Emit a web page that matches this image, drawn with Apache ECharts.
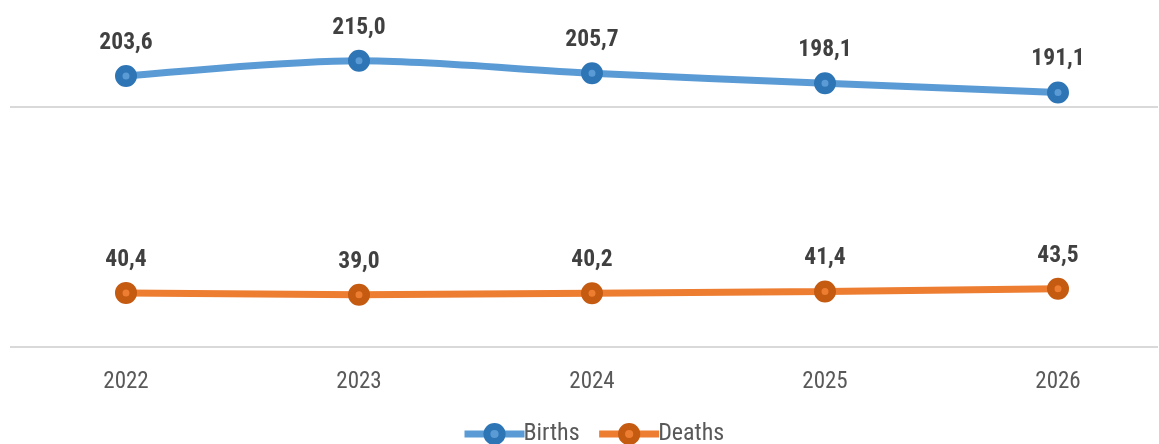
<!DOCTYPE html>
<html><head><meta charset="utf-8">
<script src="https://cdn.jsdelivr.net/npm/echarts@6/dist/echarts.min.js"></script>
<style>html,body{margin:0;padding:0;background:#fff}#c{width:1159px;height:444px}</style>
</head><body><div id="c"></div>
<script>
const categories = ['2022','2023','2024','2025','2026'];
const births = [203.6, 215.0, 205.7, 198.1, 191.1];
const deaths = [40.4, 39.0, 40.2, 41.4, 43.5];
const gridTicks = [0, 180];
const FONT = "'Roboto Condensed','Liberation Sans Narrow','Roboto',sans-serif";
const fmt = p => p.value.toFixed(1).replace('.', ',');
const chart = echarts.init(document.getElementById('c'));
function mk(name, data, line, dark, smooth){
  return {
    name, type:'line', data, smooth, xAxisIndex:0, yAxisIndex:0, z:3,
    symbol:'circle', symbolSize:14.5,
    lineStyle:{color:line, width:7},
    itemStyle:{color:line, borderColor:dark, borderWidth:7.5},
    label:{show:true, position:'top', distance:10, formatter:fmt,
      fontFamily:FONT, fontWeight:'bold', fontSize:23.5, color:'#404040'},
    emphasis:{disabled:true}
  };
}
chart.setOption({
  animation:false,
  grid:[
    {left:126, right:101, top:1, bottom:97.4, containLabel:false},
    {left:10, right:1, top:107, bottom:97.4, containLabel:false}
  ],
  legend:{bottom:-7, left:456, itemWidth:60, itemHeight:19, itemGap:16,
    lineStyle:{width:7}, itemStyle:{borderWidth:7},
    textStyle:{fontFamily:FONT, fontSize:24, color:'#595959', padding:[0,0,0,-6]},
    data:['Births','Deaths']},
  xAxis:[
    {gridIndex:0, type:'category', data:categories, boundaryGap:false,
      axisLine:{show:false}, axisTick:{show:false}, splitLine:{show:false},
      axisLabel:{fontFamily:FONT, fontSize:23, color:'#595959', margin:24}},
    {gridIndex:1, type:'category', data:categories, show:false}
  ],
  yAxis:[
    {gridIndex:0, type:'value', min:0, max:260, show:false, splitLine:{show:false}},
    {gridIndex:1, type:'value', min:gridTicks[0], max:gridTicks[1], interval:gridTicks[1]-gridTicks[0],
      axisLabel:{show:false}, axisLine:{show:false}, axisTick:{show:false},
      splitLine:{lineStyle:{color:'#d9d9d9', width:2}}}
  ],
  series:[
    mk('Births', births, '#5B9BD5', '#2E75B6', 0.3),
    mk('Deaths', deaths, '#ED7D31', '#C55A11', false)
  ]
});
</script></body></html>
